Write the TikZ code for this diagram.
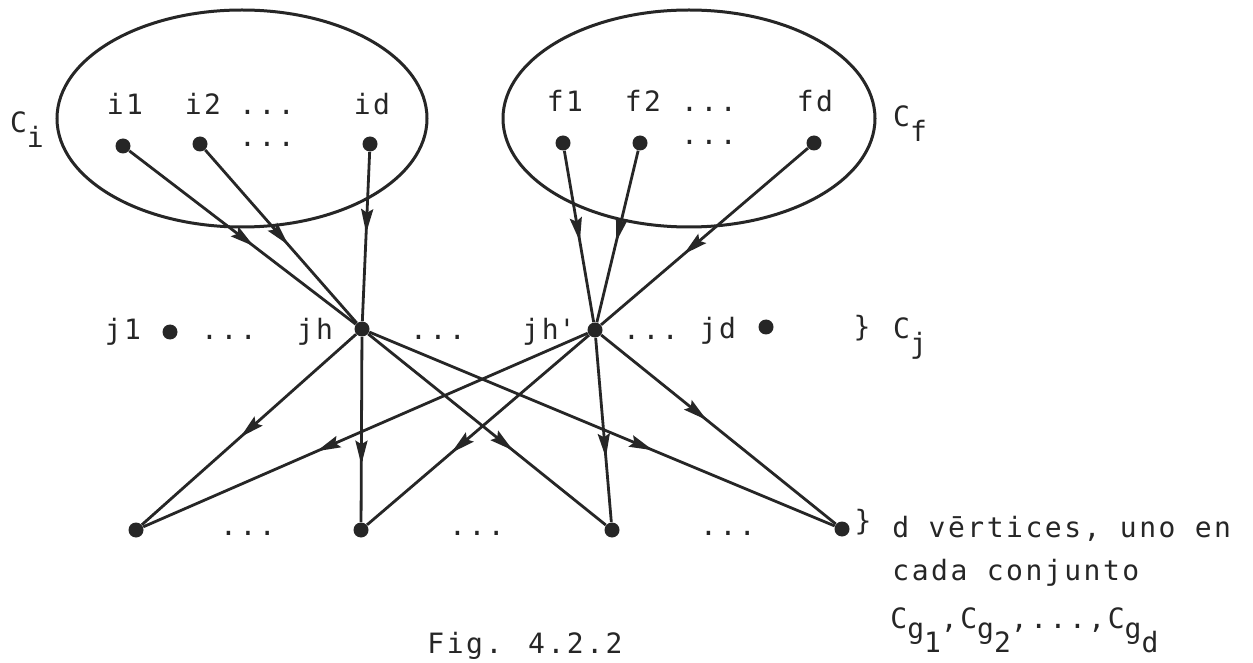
\documentclass[tikz,border=0pt]{standalone}
\usepackage{fontspec}
\setmainfont{DejaVu Sans Mono}[LetterSpace=9]
\usetikzlibrary{decorations.markings,arrows.meta}
\newcommand\lowsub[1]{\raisebox{-7.5pt}{#1}}
\newcommand\gsub[1]{\raisebox{-5pt}{#1}}
\newcommand\ggsub[1]{\raisebox{-7pt}{#1}}
\tikzset{
  vtx/.style={circle, fill=black!85, inner sep=0pt, minimum size=7.5pt},
  lbl/.style={anchor=base, inner sep=0pt, font=\fontsize{14}{16}\selectfont, text=black!85},
  lblw/.style={lbl, anchor=base west},
  setline/.style={line width=1.5pt, draw=black!85},
  edge/.style={line width=1.4pt, draw=black!85},
  midarr/.style={postaction={decorate}, decoration={markings,
    mark=at position #1 with {\arrow{Stealth[length=12pt,width=6pt,inset=1.8pt]}}}}
}
\begin{document}
\begin{tikzpicture}[x=0.5pt,y=-0.5pt]
\useasboundingbox (0,0) rectangle (1253,663);
\fill[white] (0,0) rectangle (1253,663);
% sets
\draw[setline] (242,118.5) ellipse [x radius=185, y radius=108.5];
\draw[setline] (689,118.5) ellipse [x radius=186, y radius=108.5];
\node[lbl] (ci) at (27,133) {C\lowsub{i}};
\node[lbl] (cf) at (910,127) {C\lowsub{f}};
% C_i vertices
\node[vtx] (i1) at (123,146) {};
\node[vtx] (i2) at (200,144) {};
\node[vtx] (id) at (370,144) {};
\node[lbl] (li1) at (125,115) {i1};
\node[lbl] (li2) at (203,115) {i2};
\node[lbl] (ldi1) at (267,115) {...};
\node[lbl] (ldi2) at (267,147) {...};
\node[lbl] (lid) at (372,115) {id};
% C_f vertices
\node[vtx] (f1) at (563,143) {};
\node[vtx] (f2) at (640,143) {};
\node[vtx] (fd) at (814,143) {};
\node[lbl] (lf1) at (565,112) {f1};
\node[lbl] (lf2) at (643,112) {f2};
\node[lbl] (ldf1) at (709,112) {...};
\node[lbl] (ldf2) at (709,145) {...};
\node[lbl] (lfd) at (815,112) {fd};
% C_j row
\node[vtx] (j1) at (170,332) {};
\node[vtx] (jh) at (362,329) {};
\node[vtx] (jhp) at (595,330) {};
\node[vtx] (jd) at (766,327) {};
\node[lbl] (lj1) at (123,340) {j1};
\node[lbl] (ldj1) at (229,340) {...};
\node[lbl] (ljh) at (315,340) {jh};
\node[lbl] (ldj2) at (438,340) {...};
\node[lbl] (ljhp) at (549,340) {jh\textquotesingle};
\node[lbl] (ldj3) at (651,340) {...};
\node[lbl] (ljd) at (718,338) {jd};
\node[lbl] (brj) at (862,336) {\}};
\node[lbl] (cj) at (910,338) {C\lowsub{j}};
% bottom row
\node[vtx] (b1) at (136,530) {};
\node[vtx] (b2) at (361,530) {};
\node[vtx] (b3) at (612,530) {};
\node[vtx] (b4) at (842,529) {};
\node[lbl] (ldb1) at (248,535) {...};
\node[lbl] (ldb2) at (477,535) {...};
\node[lbl] (ldb3) at (728,535) {...};
\node[lbl] (brb) at (863,530) {\}};
\node[lblw] (t1) at (892,537) {d vērtices, uno en};
\node[lblw] (t2) at (892,580) {cada conjunto};
\node[lblw] (t3) at (890,628) {C\gsub{g\ggsub{1}},C\gsub{g\ggsub{2}},...,C\gsub{g\ggsub{d}}};
\node[lblw] (cap) at (427,653) {Fig. 4.2.2};
% edges into jh and jh'
\draw[edge, midarr=0.55] (i1) -- (jh);
\draw[edge, midarr=0.55] (i2) -- (jh);
\draw[edge, midarr=0.48] (id) -- (jh);
\draw[edge, midarr=0.53] (f1) -- (jhp);
\draw[edge, midarr=0.53] (f2) -- (jhp);
\draw[edge, midarr=0.60] (fd) -- (jhp);
% edges out of jh and jh'
\draw[edge, midarr=0.54] (jh) -- (b1);
\draw[edge, midarr=0.61] (jhp) -- (b1);
\draw[edge, midarr=0.69] (jh) -- (b2);
\draw[edge, midarr=0.62] (jhp) -- (b2);
\draw[edge, midarr=0.61] (jh) -- (b3);
\draw[edge, midarr=0.65] (jhp) -- (b3);
\draw[edge, midarr=0.61] (jh) -- (b4);
\draw[edge, midarr=0.45] (jhp) -- (b4);
\end{tikzpicture}
\end{document}
